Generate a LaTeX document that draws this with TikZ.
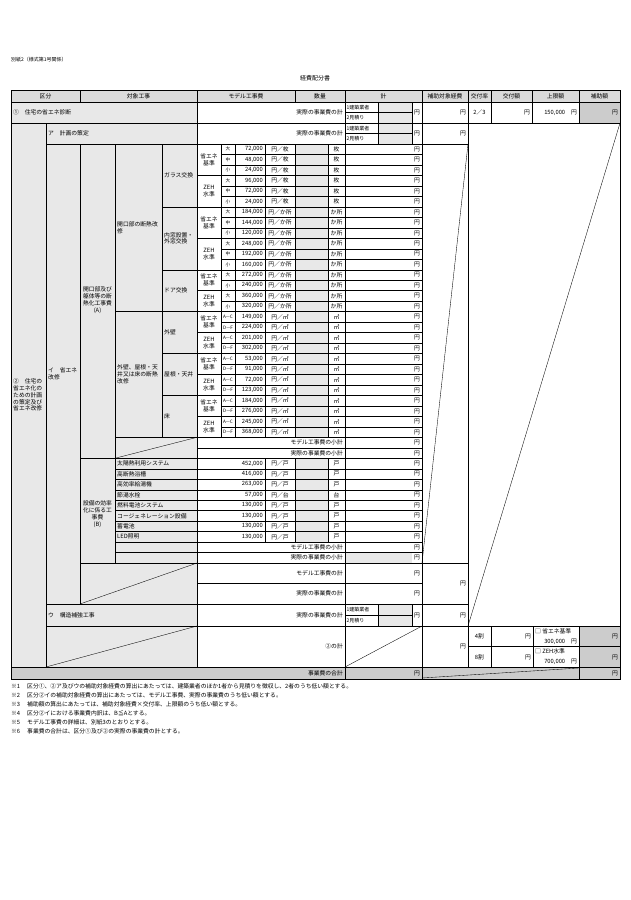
\documentclass[tikz,border=0pt]{standalone}
\usepackage{fontspec}
\setmainfont{Noto Sans CJK JP}
\newcommand\cmm{,}
\definecolor{lg}{gray}{0.91}
\definecolor{hg}{gray}{0.86}
\definecolor{dg}{gray}{0.80}
\begin{document}
\begin{tikzpicture}[x=1pt,y=-1pt,font=\fontsize{5.8}{6.8}\selectfont,
 ln/.style={line width=0.35pt},
 bd/.style={line width=0.9pt},
 tr/.style={anchor=east,inner sep=1pt},
 tl/.style={anchor=west,inner sep=1pt},
 tc/.style={inner sep=0pt,align=center}]
\def\H{10.475}
\def\Yo{144}
\useasboundingbox (0,0) rectangle (630,900);
\fill[white] (0,0) rectangle (630,900);
% titles
\node[tl,font=\fontsize{5}{6}\selectfont] (t1) at (10,60) {別紙2（様式第1号関係）};
\node[font=\fontsize{6}{7}\selectfont] (t2) at (315,78) {経費配分書};
% fills
\fill[hg] (11,90) rectangle (620,102);
\fill[lg] (11,102) rectangle (197,667);
\foreach \i in {0,...,27,30,31,...,37}
  \fill[lg] (295,{\Yo+\i*\H}) rectangle (328,{\Yo+(\i+1)*\H});
\fill[lg] (378,102) rectangle (412,123);
\fill[lg] (378,123) rectangle (412,144);
\fill[lg] (378,604) rectangle (412,626);
\fill[lg] (345,{\Yo+39*\H}) rectangle (412,563);
\fill[dg] (579,102) rectangle (620,123);
\fill[dg] (579,626) rectangle (620,667);
\fill[dg] (11,667) rectangle (620,679);
% header
\foreach \x in {80,197,295,345,422,468,491,532,579} \draw[ln] (\x,90)--(\x,102);
\foreach \x/\t in {45.5/区分,138.5/対象工事,246/モデル工事費,320/数量,383.5/計,445/補助対象経費,479.5/交付率,511.5/交付額,555.5/上限額,599.5/補助額}
  \node at (\x,96) {\t};
% row 1
\draw[ln] (11,123)--(620,123);
\foreach \x in {197,345,378,412,422,468,491,532,579} \draw[ln] (\x,102)--(\x,123);
\draw[ln] (345,112.5)--(412,112.5);
\node[tl] at (12,112.5) {①　住宅の省エネ診断};
\node[tr] at (344,112.5) {実際の事業費の計};
\node[tl,font=\fontsize{5}{6}\selectfont] at (345.5,107.5) {1建築業者};
\node[tl,font=\fontsize{5}{6}\selectfont] at (345.5,118) {2見積り};
\node[tr] at (421,112.5) {円};
\node[tr] at (467,112.5) {円};
\node at (479.5,112.5) {2／3};
\node[tr] at (531,112.5) {円};
\node[tr] at (578,112.5) {150\cmm000　円};
\node[tr] at (619,112.5) {円};
% row ア
\draw[ln] (46,123)--(46,667);
\foreach \x in {197,345,378,412,422} \draw[ln] (\x,123)--(\x,144);
\draw[ln] (345,133.5)--(412,133.5);
\draw[ln] (46,144)--(468,144);
\draw[ln] (468,102)--(468,667);
\node[tl] at (47,133.5) {ア　計画の策定};
\node[tr] at (344,133.5) {実際の事業費の計};
\node[tl,font=\fontsize{5}{6}\selectfont] at (345.5,128.5) {1建築業者};
\node[tl,font=\fontsize{5}{6}\selectfont] at (345.5,139) {2見積り};
\node[tr] at (421,133.5) {円};
\node[tr] at (467,133.5) {円};
% right big diagonal region
\draw[ln] (620,123)--(468,626);
\draw[ln] (468,144)--(422,563);
% verticals in main body
\draw[ln] (80,144)--(80,604);
\draw[ln] (115,144)--(115,563);
\draw[ln] (162,144)--(162,{\Yo+28*\H});
\foreach \x in {221,235} \draw[ln] (\x,144)--(\x,{\Yo+28*\H});
\foreach \x in {265,295,328} {
  \draw[ln] (\x,144)--(\x,{\Yo+28*\H});
  \draw[ln] (\x,{\Yo+30*\H})--(\x,{\Yo+38*\H});}
\draw[ln] (197,102)--(197,667);
% row lines 0-27
\foreach \i in {1,...,27} \draw[ln] (221,{\Yo+\i*\H})--(422,{\Yo+\i*\H});
\foreach \i in {3,6,9,12,14,16,18,20,22,24,26} \draw[ln] (197,{\Yo+\i*\H})--(221,{\Yo+\i*\H});
\foreach \i in {6,12,16,20,24} \draw[ln] (162,{\Yo+\i*\H})--(197,{\Yo+\i*\H});
\draw[ln] (115,{\Yo+16*\H})--(162,{\Yo+16*\H});
\draw[ln] (115,{\Yo+28*\H})--(422,{\Yo+28*\H});
\draw[ln] (197,{\Yo+29*\H})--(422,{\Yo+29*\H});
\draw[ln] (80,{\Yo+30*\H})--(422,{\Yo+30*\H});
\foreach \i in {31,...,39} \draw[ln] (115,{\Yo+\i*\H})--(422,{\Yo+\i*\H});
\draw[ln] (80,563)--(468,563);
\draw[ln] (197,{\Yo+28*\H})--(115,{\Yo+30*\H});
% model rows
\foreach \i/\s/\a/\u in {0/大/72/枚,1/中/48/枚,2/小/24/枚,3/大/96/枚,4/中/72/枚,5/小/24/枚,
 6/大/184/か所,7/中/144/か所,8/小/120/か所,9/大/248/か所,10/中/192/か所,11/小/160/か所,
 12/大/272/か所,13/小/240/か所,14/大/360/か所,15/小/320/か所,
 16/A—C/149/㎡,17/D—F/224/㎡,18/A—C/201/㎡,19/D—F/302/㎡,
 20/A—C/53/㎡,21/D—F/91/㎡,22/A—C/72/㎡,23/D—F/123/㎡,
 24/A—C/184/㎡,25/D—F/276/㎡,26/A—C/245/㎡,27/D—F/368/㎡} {
  \pgfmathsetmacro\ym{\Yo+(\i+0.5)*\H}
  \node[font=\fontsize{4.6}{5}\selectfont,inner sep=0pt] at (228,\ym) {\s};
  \node[tr] at (264,\ym) {\a\cmm000};
  \node at (280,\ym) {円／\u};
  \node at (336.5,\ym) {\u};
  \node[tr] at (421,\ym) {円};
}
\foreach \a/\b in {0/3,6/9,12/14,16/18,20/22,24/26}
  \node[tc] at (209,{\Yo+(\a+\b)/2*\H}) {省エネ\\基準};
\foreach \a/\b in {3/6,9/12,14/16,18/20,22/24,26/28}
  \node[tc] at (209,{\Yo+(\a+\b)/2*\H}) {ZEH\\水準};
% item labels
\node[tl] at (163,{\Yo+3*\H}) {ガラス交換};
\node[tl,align=left] at (163,{\Yo+9*\H}) {内窓設置・\\外窓交換};
\node[tl] at (163,{\Yo+14*\H}) {ドア交換};
\node[tl] at (163,{\Yo+18*\H}) {外壁};
\node[tl] at (163,{\Yo+22*\H}) {屋根・天井};
\node[tl] at (163,{\Yo+26*\H}) {床};
\node[tl,align=left] at (116,{\Yo+8*\H}) {開口部の断熱改\\修};
\node[tl,align=left] at (116,{\Yo+22*\H}) {外壁、屋根・天\\井又は床の断熱\\改修};
\node[tc] at (97.5,300) {開口部及び\\躯体等の断\\熱化工事費\\(A)};
\node[tc] at (97.5,514) {設備の効率\\化に係る工\\事費\\(B)};
\node[tl,align=left] at (47,374) {イ　省エネ\\改修};
\node[tl,align=left] at (12,395) {②　住宅の\\省エネ化の\\ための計画\\の策定及び\\省エネ改修};
% subtotal rows
\foreach \i in {28,38} {
  \node[tr] at (344,{\Yo+(\i+0.5)*\H}) {モデル工事費の小計};
  \node[tr] at (344,{\Yo+(\i+1.5)*\H}) {実際の事業費の小計};
  \node[tr] at (421,{\Yo+(\i+0.5)*\H}) {円};
  \node[tr] at (421,{\Yo+(\i+1.5)*\H}) {円};}
% equipment
\foreach \i/\n/\a/\u in {30/太陽熱利用システム/452/戸,31/高断熱浴槽/416/戸,32/高効率給湯機/263/戸,33/節湯水栓/57/台,
 34/燃料電池システム/130/戸,35/コージェネレーション設備/130/戸,36/蓄電池/130/戸,37/LED照明/130/戸} {
  \pgfmathsetmacro\ym{\Yo+(\i+0.5)*\H}
  \node[tl] at (116,\ym) {\n};
  \node[tr] at (264,\ym) {\a\cmm000};
  \node at (280,\ym) {円／\u};
  \node at (336.5,\ym) {\u};
  \node[tr] at (421,\ym) {円};
}
% lower rows
\draw[ln] (197,583)--(422,583);
\draw[ln] (46,604)--(468,604);
\draw[ln] (197,563)--(80,604);
\node[tr] at (344,573) {モデル工事費の計};
\node[tr] at (421,573) {円};
\node[tr] at (344,593.5) {実際の事業費の計};
\node[tr] at (421,593.5) {円};
\node[tr] at (467,583.5) {円};
% ウ
\foreach \x in {378,412} \draw[ln] (\x,604)--(\x,626);
\draw[ln] (345,615)--(412,615);
\draw[ln] (46,626)--(620,626);
\node[tl] at (47,615) {ウ　構造補強工事};
\node[tr] at (344,615) {実際の事業費の計};
\node[tl,font=\fontsize{5}{6}\selectfont] at (345.5,609.7) {1建築業者};
\node[tl,font=\fontsize{5}{6}\selectfont] at (345.5,620.5) {2見積り};
\node[tr] at (421,615) {円};
\node[tr] at (467,615) {円};
% ②の計
\draw[ln] (197,626)--(46,667);
\draw[ln] (422,626)--(345,667);
\foreach \x in {491,533,579} \draw[ln] (\x,626)--(\x,667);
\draw[ln] (468,646.5)--(620,646.5);
\node[tr] at (344,646.5) {②の計};
\node[tr] at (467,646.5) {円};
\node at (479.5,636) {4割};
\node at (479.5,657) {8割};
\node[tr] at (532,636) {円};
\node[tr] at (532,657) {円};
\node[tl] at (534,631) {□ 省エネ基準};
\node[tr] at (578,641.5) {300\cmm000　円};
\node[tl] at (534,651.5) {□ ZEH水準};
\node[tr] at (578,662) {700\cmm000　円};
\node[tr] at (619,636) {円};
\node[tr] at (619,657) {円};
% total row
\foreach \x in {345,422,579} \draw[ln] (\x,667)--(\x,679);
\draw[ln] (579,668)--(422,678);
\node[tr] at (344,673) {事業費の合計};
\node[tr] at (421,673) {円};
\node[tr] at (619,673) {円};
% heavy lines
\draw[bd] (11,90) rectangle (620,679);
\draw[bd] (345,90)--(345,679);
\draw[bd] (422,90)--(422,679);
\draw[bd] (468,90)--(468,123);
\draw[bd] (11,102)--(620,102);
\draw[bd] (11,123)--(620,123);
\draw[bd] (11,667)--(620,667);
% notes
\foreach \k/\t in {1/区分①、②ア及びウの補助対象経費の算出にあたっては、建築業者のほか1者から見積りを徴収し、2者のうち低い額とする。,
 2/区分②イの補助対象経費の算出にあたっては、モデル工事費、実際の事業費のうち低い額とする。,
 3/補助額の算出にあたっては、補助対象経費×交付率、上限額のうち低い額とする。,
 4/区分②イにおける事業費内訳は、B≦Aとする。,
 5/モデル工事費の詳細は、別紙3のとおりとする。,
 6/事業費の合計は、区分①及び②の実際の事業費の計とする。} {
  \node[tl] at (10,{677+\k*9.1}) {※\k};
  \node[tl] at (26,{677+\k*9.1}) {\t};}
\end{tikzpicture}
\end{document}
